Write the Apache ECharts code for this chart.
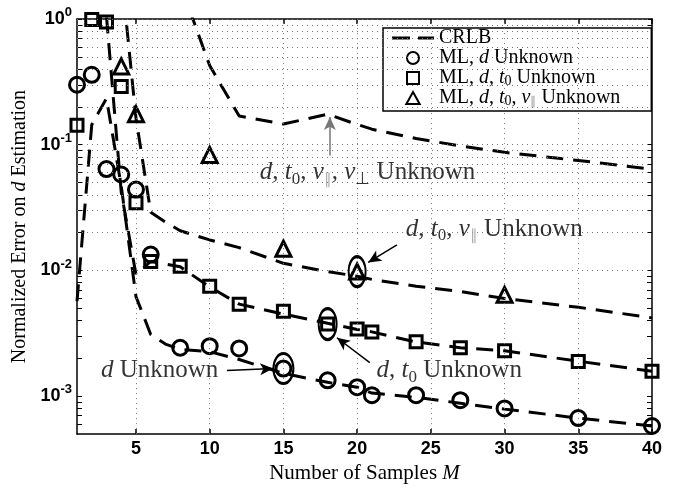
<!DOCTYPE html>
<html>
<head>
<meta charset="utf-8">
<script src="https://cdn.jsdelivr.net/npm/echarts@6/dist/echarts.min.js"></script>
<style>
  html, body { margin: 0; padding: 0; background: #fff; }
  #chart { width: 674px; height: 489px; }
</style>
</head>
<body>
<div id="chart"></div>
<script>
// CRLB curves (dashed), one per set of unknown parameters
const crlbDX = [1, 2, 3, 4, 5, 6, 7, 8, 10, 12, 15, 18, 20, 21, 24, 27, 30, 35, 40];
const crlbD = [0.0057, 0.144, 0.234, 0.047, 0.0062, 0.0031, 0.0026, 0.00236, 0.00226, 0.00196, 0.00152, 0.00129, 0.00118, 0.00106, 0.00098, 0.00088, 0.00079, 0.00067, 0.00058];

const crlbDT0X = [3, 4, 5, 6, 8, 10, 12, 15, 18, 20, 21, 24, 27, 30, 35, 40];
const crlbDT0 = [1.05, 0.042, 0.0093, 0.0118, 0.0107, 0.0074, 0.0054, 0.0045, 0.0038, 0.0034, 0.00325, 0.0027, 0.00243, 0.0023, 0.0019, 0.00158];

const crlbDT0VX = [4, 5, 6, 7, 8, 10, 12, 15, 18, 20, 21, 24, 27, 30, 35, 40];
const crlbDT0V = [2.4, 0.163, 0.029, 0.0243, 0.0207, 0.0175, 0.0152, 0.0114, 0.0098, 0.009, 0.0085, 0.0075, 0.0068, 0.006, 0.0051, 0.0042];

const crlbAllX = [8, 10, 12, 15, 18, 20, 21, 24, 27, 30, 35, 40];
const crlbAll = [1.9, 0.426, 0.169, 0.146, 0.175, 0.145, 0.133, 0.112, 0.098, 0.087, 0.075, 0.064];

// ML estimator results
const mlX = [1, 2, 3, 4, 5, 6, 8, 10, 12, 15, 18, 20, 21, 24, 27, 30, 35, 40];
const mlD = [0.30, 0.36, 0.064, 0.058, 0.044, 0.0134, 0.00243, 0.0025, 0.0024, 0.00166, 0.00134, 0.00118, 0.00102, 0.00102, 0.00093, 0.0008, 0.00067, 0.00058];
const mlDT0 = [0.143, 0.99, 0.947, 0.29, 0.0345, 0.0118, 0.0108, 0.0075, 0.0054, 0.00475, 0.00375, 0.00343, 0.00325, 0.00271, 0.00243, 0.0023, 0.00189, 0.00158];
const mlDT0VX = [4, 5, 10, 15, 20, 30];
const mlDT0V = [0.42, 0.175, 0.083, 0.0149, 0.0098, 0.0064];

// axis ticks
const xTicks = [5, 10, 15, 20, 25, 30, 35, 40];
const xGrid = [5, 10, 15, 20, 25, 30, 35];
const yDecades = [0.001, 0.01, 0.1, 1];
const yMinor = [0.0006, 0.0007, 0.0008, 0.0009,
  0.002, 0.003, 0.004, 0.005, 0.006, 0.007, 0.008, 0.009,
  0.02, 0.03, 0.04, 0.05, 0.06, 0.07, 0.08, 0.09,
  0.2, 0.3, 0.4, 0.5, 0.6, 0.7, 0.8, 0.9];
const yAllTicks = yMinor.concat(yDecades);

// annotations: text anchors, arrows and highlighted points
const noteText = [
  { pos: [20.7, 0.06], text: '{i|d}, {i|t}{sub|0}, {i|v}{subg|∥}, {i|v}{sub|⊥} Unknown' },
  { pos: [29.3, 0.0214], text: '{i|d}, {i|t}{sub|0}, {i|v}{subg|∥} Unknown' },
  { pos: [26.25, 0.0016], text: '{i|d}, {i|t}{sub|0} Unknown' },
  { pos: [6.6, 0.0016], text: '{i|d} Unknown' }
];
const noteArrows = [
  { from: [18.15, 0.082], to: [18.15, 0.166], color: '#777' },
  { from: [22.7, 0.016], to: [20.75, 0.0116], color: '#000' },
  { from: [20.86, 0.00185], to: [18.63, 0.00292], color: '#000' },
  { from: [11.17, 0.0016], to: [14.3, 0.00166], color: '#000' }
];
const highlightPts = [
  { pos: [20, 0.0098], size: [17, 30] },
  { pos: [18, 0.00375], size: [18, 31] },
  { pos: [15, 0.00166], size: [20, 30] }
];

const SERIF = 'Liberation Serif';
const SANS = 'Liberation Sans';

function pairs(xs, ys) { return xs.map((x, i) => [x, ys[i]]); }

const legendLabels = {
  'CRLB': 'CRLB',
  'ML, d Unknown': 'ML, {i|d} Unknown',
  'ML, d, t0 Unknown': 'ML, {i|d}, {i|t}{sub|0} Unknown',
  'ML, d, t0, v∥ Unknown': 'ML, {i|d}, {i|t}{sub|0}, {i|v}{subg|∥} Unknown'
};

const dashStyle = { type: [17, 10], width: 3, color: '#000' };
function crlbSeries(xs, ys) {
  return {
    name: 'CRLB', type: 'line', data: pairs(xs, ys), symbol: 'none',
    lineStyle: dashStyle, itemStyle: { color: '#000' }, clip: true, z: 3, animation: false
  };
}
const markerStyle = { color: 'rgba(255,255,255,0)', borderColor: '#000', borderWidth: 3, opacity: 1 };
function mlSeries(name, xs, ys, symbol, size) {
  return {
    name: name, type: 'scatter', data: pairs(xs, ys), symbol: symbol, symbolSize: size,
    itemStyle: markerStyle, z: 4, clip: false, animation: false
  };
}

const gridLineStyle = { type: [1, 4], color: '#777', width: 1 };
const markLineData = xGrid.map(v => ({ xAxis: v })).concat(yAllTicks.map(v => ({ yAxis: v })));

const noteRich = {
  i: { fontFamily: SERIF, fontStyle: 'italic', fontSize: 25, lineHeight: 30 },
  sub: { fontFamily: SERIF, fontSize: 17, lineHeight: 17, verticalAlign: 'bottom' },
  subg: { fontFamily: SERIF, fontSize: 15, lineHeight: 15, verticalAlign: 'bottom', color: '#999' }
};

const option = {
  backgroundColor: '#fff',
  animation: false,
  grid: { left: 77, right: 22, top: 19, bottom: 50, containLabel: false },
  legend: {
    data: [
      { name: 'CRLB', icon: 'path://M0,0h18v3h-18zM26,0h16v3h-16z', itemStyle: { color: '#000', borderWidth: 0 } },
      { name: 'ML, d Unknown', icon: 'circle' },
      { name: 'ML, d, t0 Unknown', icon: 'path://M0,0h10v10h-10z' },
      { name: 'ML, d, t0, v∥ Unknown', icon: 'path://M5,0L10,9L0,9z' }
    ],
    orient: 'vertical', left: 383, top: 28,
    padding: [0, 31, 3, 9], itemGap: 0, itemWidth: 42, itemHeight: 12,
    backgroundColor: '#fff', borderColor: '#000', borderWidth: 1.5, borderRadius: 0,
    selectedMode: false, symbolKeepAspect: true,
    formatter: name => legendLabels[name],
    textStyle: {
      fontFamily: SERIF, fontSize: 20, color: '#000', lineHeight: 20,
      rich: {
        i: { fontFamily: SERIF, fontStyle: 'italic', fontSize: 20, lineHeight: 20 },
        sub: { fontFamily: SERIF, fontSize: 14, lineHeight: 14, verticalAlign: 'bottom' },
        subg: { fontFamily: SERIF, fontSize: 12, lineHeight: 12, verticalAlign: 'bottom', color: '#999' }
      }
    }
  },
  xAxis: [{
    type: 'value', min: 1, max: 40, position: 'bottom',
    name: 'Number of Samples {i|M}', nameLocation: 'middle', nameGap: 27,
    nameTextStyle: {
      fontFamily: SERIF, fontSize: 21, color: '#000',
      rich: { i: { fontFamily: SERIF, fontStyle: 'italic', fontSize: 21 } }
    },
    axisLine: { show: true, onZero: false, lineStyle: { color: '#000', width: 1.5 } },
    axisTick: { show: true, inside: true, length: 5, customValues: xTicks, lineStyle: { color: '#000', width: 1.5 } },
    axisLabel: { show: true, customValues: xTicks, margin: 6, fontFamily: SANS, fontWeight: 'bold', fontSize: 18, color: '#000' },
    splitLine: { show: false }
  }, {
    type: 'value', min: 1, max: 40, position: 'top',
    axisLine: { show: true, onZero: false, lineStyle: { color: '#000', width: 1.5 } },
    axisTick: { show: true, inside: true, length: 5, customValues: xTicks, lineStyle: { color: '#000', width: 1.5 } },
    axisLabel: { show: false },
    splitLine: { show: false }
  }],
  yAxis: [{
    type: 'log', logBase: 10, min: 0.0005, max: 1, position: 'left',
    name: 'Normalized Error on {i|d} Estimation', nameLocation: 'middle', nameGap: 40, nameRotate: 90,
    nameTextStyle: {
      fontFamily: SERIF, fontSize: 20, color: '#000',
      rich: { i: { fontFamily: SERIF, fontStyle: 'italic', fontSize: 20 } }
    },
    axisLine: { show: true, onZero: false, lineStyle: { color: '#000', width: 1.5 } },
    axisTick: { show: true, inside: true, length: 5, customValues: yAllTicks, lineStyle: { color: '#000', width: 1 } },
    axisLabel: {
      show: true, customValues: yDecades, margin: 5,
      formatter: v => '{b|10}{s|' + Math.round(Math.log10(v)) + '}',
      rich: {
        b: { fontFamily: SANS, fontWeight: 'bold', fontSize: 18, lineHeight: 26, color: '#000' },
        s: { fontFamily: SANS, fontWeight: 'bold', fontSize: 13, lineHeight: 13, verticalAlign: 'top', color: '#000' }
      }
    },
    splitLine: { show: false }
  }, {
    type: 'log', logBase: 10, min: 0.0005, max: 1, position: 'right',
    axisLine: { show: true, onZero: false, lineStyle: { color: '#000', width: 1.5 } },
    axisTick: { show: true, inside: true, length: 5, customValues: yAllTicks, lineStyle: { color: '#000', width: 1 } },
    axisLabel: { show: false },
    splitLine: { show: false }
  }],
  series: [
    {
      name: 'gridlines', type: 'line', data: [], silent: true, z: 1,
      markLine: {
        silent: true, symbol: ['none', 'none'], label: { show: false },
        lineStyle: gridLineStyle, data: markLineData, animation: false
      }
    },
    crlbSeries(crlbDX, crlbD),
    crlbSeries(crlbDT0X, crlbDT0),
    crlbSeries(crlbDT0VX, crlbDT0V),
    crlbSeries(crlbAllX, crlbAll),
    mlSeries('ML, d Unknown', mlX, mlD, 'circle', 15),
    mlSeries('ML, d, t0 Unknown', mlX, mlDT0, 'rect', 12),
    mlSeries('ML, d, t0, v∥ Unknown', mlDT0VX, mlDT0V, 'triangle', 15),
    {
      name: 'highlight', type: 'scatter', z: 5, clip: false, silent: true,
      data: highlightPts.map(h => ({ value: h.pos, symbolSize: h.size })),
      symbol: 'circle',
      itemStyle: { color: 'rgba(255,255,255,0)', borderColor: '#000', borderWidth: 2.5, opacity: 1 }
    },
    {
      name: 'notes', type: 'scatter', z: 6, clip: false, silent: true,
      symbolSize: 1, itemStyle: { color: 'rgba(0,0,0,0)' },
      data: noteText.map(n => ({
        value: n.pos,
        label: {
          show: true, position: 'inside', formatter: n.text,
          fontFamily: SERIF, fontSize: 25, lineHeight: 30, color: '#000', rich: noteRich
        }
      })),
      markLine: {
        silent: true, symbol: ['none', 'arrow'], symbolSize: [9, 13], label: { show: false },
        animation: false,
        data: noteArrows.map(a => [
          { coord: a.from, lineStyle: { color: a.color, width: 1.5, type: 'solid' } },
          { coord: a.to }
        ])
      }
    }
  ]
};

const chart = echarts.init(document.getElementById('chart'), null, { renderer: 'canvas' });
chart.setOption(option);
</script>
</body>
</html>
